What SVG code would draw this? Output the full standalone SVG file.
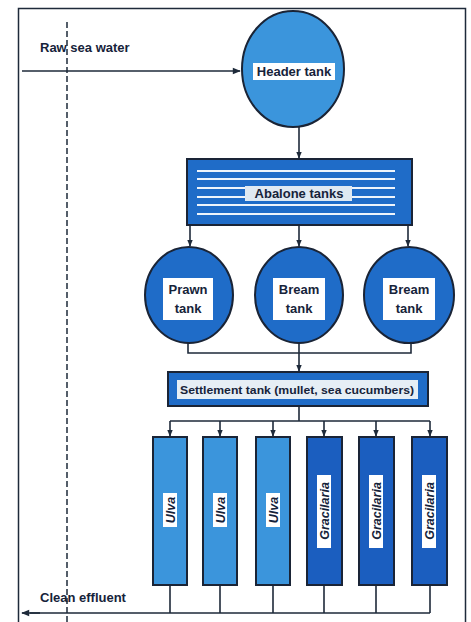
<svg xmlns="http://www.w3.org/2000/svg" width="471" height="622" viewBox="0 0 471 622">
<style>
  .ln { stroke: #1e2a3a; stroke-width: 1.6; fill: none; }
  .tank { stroke: #1a2436; stroke-width: 2; }
  .light { fill: #3b95dc; }
  .mid { fill: #1f6cc8; }
  .dark { fill: #1b5ebf; }
  .lbl { fill: #ffffff; }
  .t { font-family: "Liberation Sans", Arial, sans-serif; font-weight: bold; fill: #16233a; }
  .it { font-style: italic; }
</style>
<defs>
  <marker id="ah" viewBox="0 0 10 10" refX="9" refY="5" markerWidth="7" markerHeight="7" markerUnits="userSpaceOnUse" orient="auto">
    <path d="M0,1 L10,5 L0,9 Z" fill="#1e2a3a"/>
  </marker>
  <marker id="ahw" viewBox="0 0 10 10" refX="9" refY="5" markerWidth="10" markerHeight="8" markerUnits="userSpaceOnUse" orient="auto">
    <path d="M0,1 L10,5 L0,9 Z" fill="#1e2a3a"/>
  </marker>
</defs>
<rect x="0" y="0" width="471" height="622" fill="#ffffff"/>
<rect x="18.5" y="8.5" width="447" height="630" fill="none" stroke="#1e2a3a" stroke-width="1.5"/>

<g id="connectors">
  <line x1="67" y1="22" x2="67" y2="622" stroke="#1e2a3a" stroke-width="1.5" stroke-dasharray="6 3"/>
  <line class="ln" x1="22" y1="71" x2="240" y2="71" marker-end="url(#ahw)"/>
  <line class="ln" x1="299" y1="126" x2="299" y2="158" marker-end="url(#ah)"/>
  <line class="ln" x1="190" y1="225" x2="190" y2="246" marker-end="url(#ah)"/>
  <line class="ln" x1="299" y1="225" x2="299" y2="246" marker-end="url(#ah)"/>
  <line class="ln" x1="408" y1="225" x2="408" y2="246" marker-end="url(#ah)"/>
  <path class="ln" d="M188,342 V353 H411 V342 M299,343 V353"/>
  <line class="ln" x1="299" y1="353" x2="299" y2="371" marker-end="url(#ah)"/>
  <path class="ln" d="M299,406 V421 M170,421 H430"/>
  <line class="ln" x1="170" y1="421" x2="170" y2="436" marker-end="url(#ah)"/>
  <line class="ln" x1="220" y1="421" x2="220" y2="436" marker-end="url(#ah)"/>
  <line class="ln" x1="273" y1="421" x2="273" y2="436" marker-end="url(#ah)"/>
  <line class="ln" x1="324" y1="421" x2="324" y2="436" marker-end="url(#ah)"/>
  <line class="ln" x1="376" y1="421" x2="376" y2="436" marker-end="url(#ah)"/>
  <line class="ln" x1="430" y1="421" x2="430" y2="436" marker-end="url(#ah)"/>
  <path class="ln" d="M170,585 V613 M220,585 V613 M273,585 V613 M324,585 V613 M376,585 V613 M430,585 V613 M430,613 H30"/>
  <line class="ln" x1="40" y1="613" x2="22" y2="613" marker-end="url(#ahw)"/>
</g>

<g id="raw-sea-water">
  <text class="t" x="40" y="52" font-size="13">Raw sea water</text>
</g>
<g id="clean-effluent">
  <text class="t" x="40" y="602" font-size="13">Clean effluent</text>
</g>

<g id="header-tank">
  <ellipse class="tank light" cx="293" cy="69" rx="51" ry="58"/>
  <rect class="lbl" x="253" y="63" width="82" height="17"/>
  <text class="t" x="294" y="76" font-size="13" text-anchor="middle">Header tank</text>
</g>

<g id="abalone-tanks">
  <rect class="tank mid" x="187" y="159" width="225" height="66"/>
  <g stroke="#eef4fb" stroke-width="2">
    <line x1="197" y1="171" x2="395" y2="171"/>
    <line x1="197" y1="179" x2="395" y2="179"/>
    <line x1="197" y1="188" x2="395" y2="188"/>
    <line x1="197" y1="197" x2="395" y2="197"/>
    <line x1="197" y1="205" x2="395" y2="205"/>
    <line x1="197" y1="214" x2="395" y2="214"/>
  </g>
  <rect fill="#dfe9f2" x="245" y="186" width="107" height="15"/>
  <text class="t" x="299" y="198" font-size="13" text-anchor="middle">Abalone tanks</text>
</g>

<g id="prawn-tank">
  <ellipse class="tank mid" cx="189" cy="295" rx="44" ry="48"/>
  <rect class="lbl" x="163" y="278" width="50" height="42"/>
  <text class="t" x="188" y="294" font-size="13" text-anchor="middle">Prawn</text>
  <text class="t" x="188" y="313" font-size="13" text-anchor="middle">tank</text>
</g>

<g id="bream-tank-1">
  <ellipse class="tank mid" cx="299" cy="295" rx="44" ry="48"/>
  <rect class="lbl" x="273" y="278" width="52" height="42"/>
  <text class="t" x="299" y="294" font-size="13" text-anchor="middle">Bream</text>
  <text class="t" x="299" y="313" font-size="13" text-anchor="middle">tank</text>
</g>

<g id="bream-tank-2">
  <ellipse class="tank mid" cx="409" cy="295" rx="45" ry="48"/>
  <rect class="lbl" x="383" y="278" width="52" height="42"/>
  <text class="t" x="409" y="294" font-size="13" text-anchor="middle">Bream</text>
  <text class="t" x="409" y="313" font-size="13" text-anchor="middle">tank</text>
</g>

<g id="settlement-tank">
  <rect class="tank mid" x="168" y="372" width="260" height="34"/>
  <rect fill="#e6eef5" x="177" y="380" width="241" height="19"/>
  <text class="t" x="297" y="394" font-size="11.5" text-anchor="middle" textLength="234" lengthAdjust="spacingAndGlyphs">Settlement tank (mullet, sea cucumbers)</text>
</g>

<g id="ulva-1">
  <rect class="tank light" x="153" y="437" width="34" height="148"/>
  <rect class="lbl" x="163" y="493" width="14" height="34"/>
  <text class="t it" transform="translate(174.5,510) rotate(-90)" font-size="12.5" text-anchor="middle">Ulva</text>
</g>
<g id="ulva-2">
  <rect class="tank light" x="203" y="437" width="34" height="148"/>
  <rect class="lbl" x="213" y="493" width="14" height="34"/>
  <text class="t it" transform="translate(224.5,510) rotate(-90)" font-size="12.5" text-anchor="middle">Ulva</text>
</g>
<g id="ulva-3">
  <rect class="tank light" x="256" y="437" width="34" height="148"/>
  <rect class="lbl" x="266" y="493" width="14" height="34"/>
  <text class="t it" transform="translate(277.5,510) rotate(-90)" font-size="12.5" text-anchor="middle">Ulva</text>
</g>
<g id="gracilaria-1">
  <rect class="tank dark" x="307" y="437" width="35" height="148"/>
  <rect class="lbl" x="317" y="475" width="14" height="73"/>
  <text class="t it" transform="translate(328.5,511) rotate(-90)" font-size="12.5" text-anchor="middle">Gracilaria</text>
</g>
<g id="gracilaria-2">
  <rect class="tank dark" x="359" y="437" width="35" height="148"/>
  <rect class="lbl" x="369" y="475" width="14" height="73"/>
  <text class="t it" transform="translate(380.5,511) rotate(-90)" font-size="12.5" text-anchor="middle">Gracilaria</text>
</g>
<g id="gracilaria-3">
  <rect class="tank dark" x="412" y="437" width="35" height="148"/>
  <rect class="lbl" x="422" y="475" width="14" height="73"/>
  <text class="t it" transform="translate(433.5,511) rotate(-90)" font-size="12.5" text-anchor="middle">Gracilaria</text>
</g>
</svg>
